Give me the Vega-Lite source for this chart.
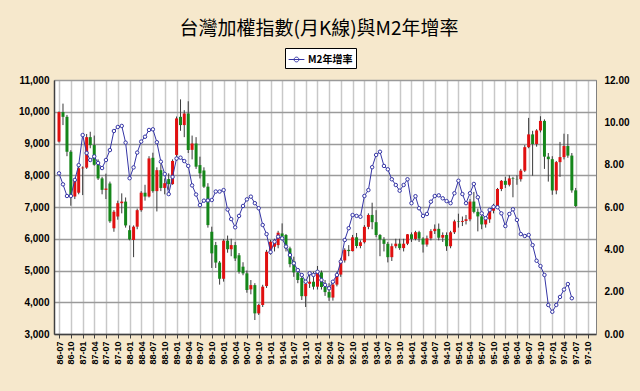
{
  "$schema": "https://vega.github.io/schema/vega-lite/v6.json",
  "autosize": {"type": "none"},
  "width": 542,
  "height": 254,
  "padding": {"left": 54, "top": 80, "right": 44, "bottom": 57},
  "background": "#f6e8cc",
  "view": {"fill": "#ffffff", "stroke": "#808080", "strokeWidth": 1},
  "title": {
    "text": "台灣加權指數(月K線)與M2年增率",
    "font": "Noto Sans CJK TC",
    "fontSize": 19,
    "fontWeight": "normal",
    "color": "#000000",
    "anchor": "middle",
    "frame": "group",
    "dx": -6,
    "offset": 9
  },
  "datasets": {
    "k": [
      {"d":"1997-07-01","o":9060,"h":10010,"l":9030,"c":9990,"m2":7.59},
      {"d":"1997-08-01","o":9990,"h":10256,"l":9580,"c":9840,"m2":7.07},
      {"d":"1997-09-01","o":9840,"h":9900,"l":8600,"c":8740,"m2":6.52},
      {"d":"1997-10-01","o":8740,"h":8790,"l":7040,"c":7350,"m2":6.52},
      {"d":"1997-11-01","o":7330,"h":7900,"l":7250,"c":7850,"m2":7.28},
      {"d":"1997-12-01","o":7450,"h":8300,"l":7400,"c":8220,"m2":7.98},
      {"d":"1998-01-01","o":8220,"h":8280,"l":7375,"c":8240,"m2":9.40},
      {"d":"1998-02-01","o":8240,"h":9300,"l":8200,"c":9200,"m2":8.55},
      {"d":"1998-03-01","o":9200,"h":9370,"l":8850,"c":8950,"m2":8.22},
      {"d":"1998-04-01","o":8950,"h":9250,"l":8300,"c":8330,"m2":8.39},
      {"d":"1998-05-01","o":8330,"h":8500,"l":7850,"c":7900,"m2":8.08},
      {"d":"1998-06-01","o":7900,"h":7950,"l":7400,"c":7540,"m2":7.84},
      {"d":"1998-07-01","o":7540,"h":8050,"l":7250,"c":7580,"m2":8.22},
      {"d":"1998-08-01","o":7740,"h":7800,"l":6500,"c":6550,"m2":8.69},
      {"d":"1998-09-01","o":6330,"h":6900,"l":6220,"c":6850,"m2":9.59},
      {"d":"1998-10-01","o":6700,"h":7200,"l":6600,"c":7120,"m2":9.78},
      {"d":"1998-11-01","o":7120,"h":7430,"l":6800,"c":7170,"m2":9.83},
      {"d":"1998-12-01","o":7170,"h":7300,"l":6350,"c":6420,"m2":9.04},
      {"d":"1999-01-01","o":6270,"h":6420,"l":5950,"c":5980,"m2":7.36},
      {"d":"1999-02-01","o":5960,"h":6420,"l":5420,"c":6380,"m2":7.87},
      {"d":"1999-03-01","o":6380,"h":6950,"l":6300,"c":6900,"m2":8.57},
      {"d":"1999-04-01","o":6900,"h":7500,"l":6850,"c":7450,"m2":9.09},
      {"d":"1999-05-01","o":7450,"h":7700,"l":7200,"c":7330,"m2":9.32},
      {"d":"1999-06-01","o":7330,"h":8600,"l":7300,"c":8530,"m2":9.64},
      {"d":"1999-07-01","o":8550,"h":8710,"l":7450,"c":7500,"m2":9.67},
      {"d":"1999-08-01","o":7500,"h":8250,"l":6860,"c":8160,"m2":9.06},
      {"d":"1999-09-01","o":8160,"h":8350,"l":7500,"c":7600,"m2":8.14},
      {"d":"1999-10-01","o":7600,"h":7900,"l":7400,"c":7750,"m2":7.56},
      {"d":"1999-11-01","o":7880,"h":8060,"l":7540,"c":7720,"m2":6.61},
      {"d":"1999-12-01","o":7720,"h":8500,"l":7700,"c":8450,"m2":7.42},
      {"d":"2000-01-01","o":8640,"h":9850,"l":8450,"c":9790,"m2":8.29},
      {"d":"2000-02-01","o":9840,"h":10390,"l":9400,"c":9580,"m2":8.33},
      {"d":"2000-03-01","o":9580,"h":10050,"l":9200,"c":9945,"m2":8.17},
      {"d":"2000-04-01","o":9945,"h":10330,"l":8700,"c":8795,"m2":7.94},
      {"d":"2000-05-01","o":8800,"h":9250,"l":8500,"c":9000,"m2":7.02},
      {"d":"2000-06-01","o":9000,"h":9200,"l":8200,"c":8270,"m2":6.59},
      {"d":"2000-07-01","o":8320,"h":8585,"l":7900,"c":8060,"m2":6.09},
      {"d":"2000-08-01","o":8150,"h":8250,"l":7600,"c":7640,"m2":6.30},
      {"d":"2000-09-01","o":7640,"h":7750,"l":6350,"c":6430,"m2":6.31},
      {"d":"2000-10-01","o":6220,"h":6380,"l":5080,"c":5540,"m2":6.33},
      {"d":"2000-11-01","o":5800,"h":5900,"l":5080,"c":5250,"m2":6.73},
      {"d":"2000-12-01","o":5250,"h":5300,"l":4555,"c":4740,"m2":6.73},
      {"d":"2001-01-01","o":4740,"h":5990,"l":4650,"c":5940,"m2":6.80},
      {"d":"2001-02-01","o":5940,"h":6100,"l":5560,"c":5670,"m2":5.88},
      {"d":"2001-03-01","o":5670,"h":6000,"l":5450,"c":5800,"m2":5.43},
      {"d":"2001-04-01","o":5800,"h":5900,"l":5300,"c":5380,"m2":5.04},
      {"d":"2001-05-01","o":5480,"h":5550,"l":4900,"c":4960,"m2":5.58},
      {"d":"2001-06-01","o":5120,"h":5260,"l":4850,"c":4910,"m2":6.05},
      {"d":"2001-07-01","o":4910,"h":5000,"l":4300,"c":4385,"m2":6.36},
      {"d":"2001-08-01","o":4406,"h":4700,"l":4250,"c":4540,"m2":6.49},
      {"d":"2001-09-01","o":4540,"h":4600,"l":3440,"c":3650,"m2":6.18},
      {"d":"2001-10-01","o":3650,"h":3950,"l":3600,"c":3913,"m2":5.94},
      {"d":"2001-11-01","o":3913,"h":4550,"l":3850,"c":4490,"m2":5.15},
      {"d":"2001-12-01","o":4510,"h":5650,"l":4450,"c":5590,"m2":4.72},
      {"d":"2002-01-01","o":5590,"h":5960,"l":5500,"c":5905,"m2":3.87},
      {"d":"2002-02-01","o":5750,"h":6000,"l":5600,"c":5960,"m2":4.36},
      {"d":"2002-03-01","o":5800,"h":6250,"l":5700,"c":6190,"m2":4.60},
      {"d":"2002-04-01","o":6167,"h":6484,"l":5950,"c":6065,"m2":4.52},
      {"d":"2002-05-01","o":6117,"h":6150,"l":5600,"c":5697,"m2":4.13},
      {"d":"2002-06-01","o":5697,"h":5750,"l":5100,"c":5200,"m2":3.73},
      {"d":"2002-07-01","o":5300,"h":5435,"l":4800,"c":4940,"m2":3.34},
      {"d":"2002-08-01","o":4940,"h":5050,"l":4600,"c":4700,"m2":3.02},
      {"d":"2002-09-01","o":4764,"h":4850,"l":4070,"c":4191,"m2":2.79},
      {"d":"2002-10-01","o":4191,"h":4650,"l":3850,"c":4579,"m2":2.47},
      {"d":"2002-11-01","o":4579,"h":4860,"l":4450,"c":4646,"m2":2.87},
      {"d":"2002-12-01","o":4646,"h":4963,"l":4400,"c":4490,"m2":2.79},
      {"d":"2003-01-01","o":4490,"h":5141,"l":4400,"c":4941,"m2":2.94},
      {"d":"2003-02-01","o":4941,"h":5000,"l":4400,"c":4480,"m2":2.55},
      {"d":"2003-03-01","o":4480,"h":4700,"l":4200,"c":4320,"m2":2.32},
      {"d":"2003-04-01","o":4321,"h":4600,"l":4044,"c":4148,"m2":2.16},
      {"d":"2003-05-01","o":4148,"h":4620,"l":4050,"c":4556,"m2":2.47},
      {"d":"2003-06-01","o":4556,"h":4960,"l":4500,"c":4872,"m2":2.79},
      {"d":"2003-07-01","o":4872,"h":5400,"l":4800,"c":5318,"m2":3.42},
      {"d":"2003-08-01","o":5318,"h":5700,"l":5250,"c":5650,"m2":4.44},
      {"d":"2003-09-01","o":5650,"h":5800,"l":5450,"c":5611,"m2":5.00},
      {"d":"2003-10-01","o":5611,"h":6120,"l":5600,"c":6045,"m2":5.62},
      {"d":"2003-11-01","o":6045,"h":6182,"l":5700,"c":5771,"m2":5.58},
      {"d":"2003-12-01","o":5771,"h":5950,"l":5700,"c":5890,"m2":5.54},
      {"d":"2004-01-01","o":5890,"h":6430,"l":5850,"c":6375,"m2":6.52},
      {"d":"2004-02-01","o":6375,"h":6800,"l":6300,"c":6750,"m2":6.80},
      {"d":"2004-03-01","o":6750,"h":7135,"l":6300,"c":6522,"m2":7.88},
      {"d":"2004-04-01","o":6522,"h":6900,"l":6050,"c":6117,"m2":8.46},
      {"d":"2004-05-01","o":6117,"h":6150,"l":5450,"c":5977,"m2":8.61},
      {"d":"2004-06-01","o":5977,"h":6050,"l":5600,"c":5840,"m2":7.94},
      {"d":"2004-07-01","o":5840,"h":5900,"l":5255,"c":5420,"m2":7.78},
      {"d":"2004-08-01","o":5420,"h":5850,"l":5300,"c":5765,"m2":7.31},
      {"d":"2004-09-01","o":5765,"h":6000,"l":5700,"c":5845,"m2":7.04},
      {"d":"2004-10-01","o":5845,"h":6000,"l":5650,"c":5706,"m2":6.77},
      {"d":"2004-11-01","o":5706,"h":6000,"l":5600,"c":5844,"m2":7.04},
      {"d":"2004-12-01","o":5844,"h":6150,"l":5800,"c":6140,"m2":7.31},
      {"d":"2005-01-01","o":6140,"h":6200,"l":5900,"c":5994,"m2":6.18},
      {"d":"2005-02-01","o":5994,"h":6250,"l":5950,"c":6207,"m2":6.51},
      {"d":"2005-03-01","o":6207,"h":6250,"l":5900,"c":6006,"m2":5.94},
      {"d":"2005-04-01","o":6006,"h":6050,"l":5565,"c":5818,"m2":5.58},
      {"d":"2005-05-01","o":5818,"h":6100,"l":5750,"c":6012,"m2":5.67},
      {"d":"2005-06-01","o":6012,"h":6300,"l":5950,"c":6241,"m2":6.25},
      {"d":"2005-07-01","o":6241,"h":6450,"l":6150,"c":6312,"m2":6.52},
      {"d":"2005-08-01","o":6312,"h":6480,"l":5950,"c":6033,"m2":6.55},
      {"d":"2005-09-01","o":6033,"h":6200,"l":5900,"c":6119,"m2":6.41},
      {"d":"2005-10-01","o":6119,"h":6200,"l":5618,"c":5764,"m2":6.28},
      {"d":"2005-11-01","o":5764,"h":6250,"l":5700,"c":6204,"m2":6.18},
      {"d":"2005-12-01","o":6204,"h":6600,"l":6150,"c":6548,"m2":6.65},
      {"d":"2006-01-01","o":6548,"h":6789,"l":6350,"c":6532,"m2":7.24},
      {"d":"2006-02-01","o":6532,"h":6700,"l":6400,"c":6561,"m2":6.61},
      {"d":"2006-03-01","o":6561,"h":6750,"l":6450,"c":6613,"m2":6.18},
      {"d":"2006-04-01","o":6613,"h":7250,"l":6550,"c":7171,"m2":6.65},
      {"d":"2006-05-01","o":7171,"h":7474,"l":6800,"c":6847,"m2":7.09},
      {"d":"2006-06-01","o":6847,"h":6950,"l":6232,"c":6704,"m2":6.46},
      {"d":"2006-07-01","o":6704,"h":6800,"l":6300,"c":6452,"m2":5.70},
      {"d":"2006-08-01","o":6452,"h":6650,"l":6350,"c":6611,"m2":5.47},
      {"d":"2006-09-01","o":6611,"h":6900,"l":6500,"c":6883,"m2":5.86},
      {"d":"2006-10-01","o":6883,"h":7100,"l":6800,"c":7021,"m2":6.01},
      {"d":"2006-11-01","o":7021,"h":7600,"l":6950,"c":7567,"m2":5.99},
      {"d":"2006-12-01","o":7567,"h":7850,"l":7500,"c":7823,"m2":5.70},
      {"d":"2007-01-01","o":7823,"h":7950,"l":7600,"c":7699,"m2":5.10},
      {"d":"2007-02-01","o":7699,"h":8000,"l":7650,"c":7901,"m2":5.67},
      {"d":"2007-03-01","o":7901,"h":7950,"l":7306,"c":7884,"m2":5.89},
      {"d":"2007-04-01","o":7884,"h":8000,"l":7700,"c":7875,"m2":5.39},
      {"d":"2007-05-01","o":7875,"h":8200,"l":7800,"c":8145,"m2":4.72},
      {"d":"2007-06-01","o":8145,"h":8950,"l":8100,"c":8884,"m2":4.63},
      {"d":"2007-07-01","o":8884,"h":9807,"l":8850,"c":9287,"m2":4.68},
      {"d":"2007-08-01","o":9287,"h":9400,"l":7987,"c":8982,"m2":4.20},
      {"d":"2007-09-01","o":8982,"h":9450,"l":8900,"c":9411,"m2":3.46},
      {"d":"2007-10-01","o":9411,"h":9859,"l":9350,"c":9711,"m2":3.21},
      {"d":"2007-11-01","o":9711,"h":9760,"l":8200,"c":8586,"m2":2.79},
      {"d":"2007-12-01","o":8586,"h":8700,"l":7800,"c":8506,"m2":1.37},
      {"d":"2008-01-01","o":8506,"h":8600,"l":7384,"c":7521,"m2":1.05},
      {"d":"2008-02-01","o":7521,"h":8450,"l":7400,"c":8413,"m2":1.37},
      {"d":"2008-03-01","o":8413,"h":9050,"l":7950,"c":8572,"m2":1.75},
      {"d":"2008-04-01","o":8572,"h":9309,"l":8500,"c":8920,"m2":2.10},
      {"d":"2008-05-01","o":8920,"h":9295,"l":8550,"c":8619,"m2":2.36},
      {"d":"2008-06-01","o":8619,"h":8700,"l":7450,"c":7524,"m2":1.69},
      {"d":"2008-07-01","o":7524,"h":7600,"l":7000,"c":7031,"m2":null}
    ]
  },
  "data": {"name": "k"},
  "encoding": {
    "x": {
      "field": "d",
      "type": "temporal",
      "scale": {
        "type": "utc",
        "domain": [
          {"year": 1997, "month": 7, "date": 1, "utc": true},
          {"year": 2008, "month": 10, "date": 28, "utc": true}
        ]
      },
      "axis": {
        "title": null,
        "tickCount": {"interval": "month", "step": 3},
        "labelExpr": "(utcyear(datum.value) - 1911) + '-' + utcFormat(datum.value, '%m')",
        "labelAngle": -90,
        "labelFont": "Liberation Sans",
        "labelFontSize": 9,
        "labelFontWeight": "bold",
        "labelColor": "#000000",
        "labelPadding": 3,
        "labelOverlap": false,
        "labelFlush": false,
        "labelBound": false,
        "tickSize": 4,
        "tickColor": "#404040",
        "domainColor": "#404040",
        "domainWidth": 1.5,
        "grid": true,
        "gridColor": "#c8c8c8",
        "gridWidth": 1.5
      }
    }
  },
  "layer": [
    {
      "layer": [
        {
          "mark": {"type": "rule", "color": "#3a3a3a", "strokeWidth": 1},
          "encoding": {
            "y": {
              "field": "l",
              "type": "quantitative",
              "scale": {"domain": [3000, 11000], "nice": false, "zero": false},
              "axis": {
                "title": null,
                "orient": "left",
                "values": [3000, 4000, 5000, 6000, 7000, 8000, 9000, 10000, 11000],
                "format": ",.0f",
                "labelFont": "Liberation Sans",
                "labelFontSize": 10,
                "labelFontWeight": "bold",
                "labelColor": "#000000",
                "labelPadding": 5,
                "ticks": false,
                "domainColor": "#404040",
                "domainWidth": 1.5,
                "grid": true,
                "gridColor": "#9a9a9a",
                "gridWidth": 1.5
              }
            },
            "y2": {"field": "h"}
          }
        },
        {
          "mark": {"type": "bar", "width": 3},
          "encoding": {
            "y": {
              "field": "o",
              "type": "quantitative",
              "scale": {"domain": [3000, 11000], "nice": false, "zero": false},
              "axis": {
                "title": null,
                "orient": "left",
                "values": [3000, 4000, 5000, 6000, 7000, 8000, 9000, 10000, 11000],
                "format": ",.0f",
                "labelFont": "Liberation Sans",
                "labelFontSize": 10,
                "labelFontWeight": "bold",
                "labelColor": "#000000",
                "labelPadding": 5,
                "ticks": false,
                "domainColor": "#404040",
                "domainWidth": 1.5,
                "grid": true,
                "gridColor": "#9a9a9a",
                "gridWidth": 1.5
              }
            },
            "y2": {"field": "c"},
            "color": {
              "condition": {"test": "datum.c >= datum.o", "value": "#e01010"},
              "value": "#15861a"
            }
          }
        }
      ]
    },
    {
      "mark": {
        "type": "line",
        "strokeWidth": 1,
        "point": {"filled": false, "fill": "#ffffff", "size": 12, "strokeWidth": 1}
      },
      "encoding": {
        "y": {
          "field": "m2",
          "type": "quantitative",
          "scale": {"domain": [0, 12], "nice": false},
          "axis": {
            "title": null,
            "orient": "right",
            "values": [0, 2, 4, 6, 8, 10, 12],
            "format": ".2f",
            "labelFont": "Liberation Sans",
            "labelFontSize": 10,
            "labelFontWeight": "bold",
            "labelColor": "#000000",
            "labelPadding": 8,
            "ticks": false,
            "domainColor": "#808080",
            "grid": false
          }
        },
        "color": {
          "datum": "M2年增率",
          "type": "nominal",
          "scale": {"range": ["#3535a5"]},
          "legend": {
            "title": null,
            "orient": "none",
            "legendX": 231,
            "legendY": -32,
            "strokeColor": "#000000",
            "fillColor": "#ffffff",
            "padding": 3,
            "labelFont": "Noto Sans CJK TC",
            "labelFontSize": 10,
            "labelFontWeight": "bold",
            "labelColor": "#000000",
            "labelOffset": 3,
            "symbolType": "M-1,0L1,0M-0.3,0A0.3,0.3,0,1,1,0.3,0A0.3,0.3,0,1,1,-0.3,0",
            "symbolSize": 250,
            "symbolStrokeWidth": 1,
            "symbolFillColor": "#ffffff"
          }
        }
      }
    }
  ],
  "resolve": {"scale": {"y": "independent"}}
}
